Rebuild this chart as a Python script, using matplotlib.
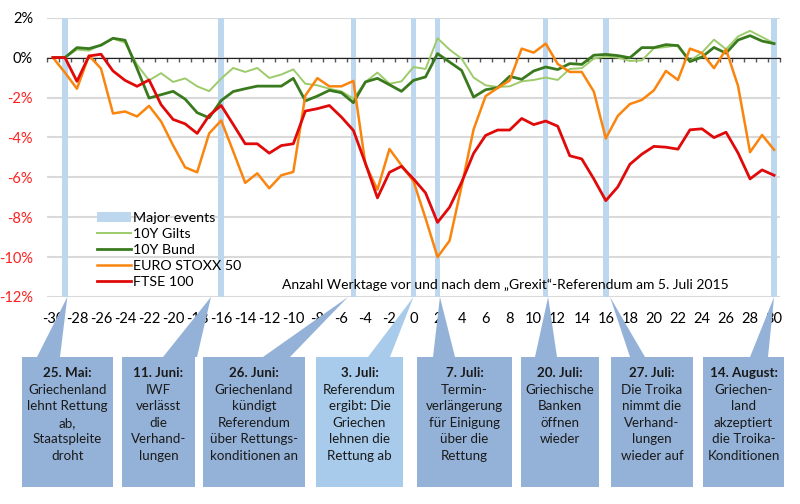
import numpy as np
import matplotlib
matplotlib.use('Agg')
import matplotlib.pyplot as plt
from matplotlib.patches import Rectangle, Polygon

plt.rcParams['font.family'] = ['Lato', 'DejaVu Sans']
plt.rcParams['axes.unicode_minus'] = False

# Werktage relativ zum Referendum (5. Juli 2015)
days = list(range(-30, 31))

# Veränderung in %
gilts = [0, 0, 0.40, 0.35, 0.65, 0.95, 0.75, -0.35, -1.14, -0.78,
         -1.22, -1.04, -1.44, -1.68, -1.05, -0.52, -0.72, -0.52, -1.02, -0.85,
         -0.59, -1.31, -1.39, -1.56, -1.69, -2.06, -1.22, -0.75, -1.31, -1.19,
         -0.47,
         -0.57, 0.97, 0.40, -0.05, -1.00, -1.39, -1.47, -1.44, -1.19, -1.12,
         -1.00, -1.12, -0.57, -0.53, -0.05, 0.05, 0.00, -0.17, -0.14, 0.47,
         0.53, 0.62, -0.15, 0.25, 0.90, 0.42, 1.06, 1.34, 1.03, 0.72]
bund = [0, 0, 0.50, 0.45, 0.62, 0.97, 0.87, -0.55, -2.03, -1.86,
        -1.69, -2.08, -2.76, -3.02, -2.15, -1.70, -1.56, -1.43, -1.43, -1.43,
        -1.04, -2.17, -1.93, -1.64, -1.76, -2.26, -1.22, -1.04, -1.36, -1.69,
        -1.14,
        -0.97, 0.20, -0.22, -0.64, -1.98, -1.61, -1.51, -0.94, -1.09, -0.67,
        -0.47, -0.60, -0.30, -0.34, 0.12, 0.16, 0.10, -0.01, 0.50, 0.50,
        0.65, 0.60, -0.20, 0.03, 0.51, 0.22, 0.88, 1.10, 0.83, 0.70]
euro = [0, -0.75, -1.56, 0.10, -0.55, -2.80, -2.70, -2.95, -2.42, -3.20,
        -4.40, -5.50, -5.75, -3.80, -3.15, -4.70, -6.28, -5.80, -6.55, -5.90,
        -5.73, -1.90, -1.03, -1.44, -1.44, -1.17, -5.35, -6.62, -4.58, -5.40,
        -6.20,
        -8.05, -10.0, -9.18, -6.45, -3.60, -1.93, -1.52, -1.15, 0.45, 0.25,
        0.70, -0.32, -0.72, -0.72, -1.70, -4.05, -2.92, -2.33, -2.12, -1.64,
        -0.67, -1.12, 0.45, 0.23, -0.53, 0.41, -1.42, -4.74, -3.88, -4.62]
ftse = [0, 0, -1.19, 0.08, 0.17, -0.67, -1.14, -1.44, -1.12, -2.36,
        -3.10, -3.32, -3.80, -2.90, -2.40, -3.35, -4.32, -4.32, -4.79, -4.41,
        -4.32, -2.68, -2.56, -2.40, -2.98, -3.65, -5.30, -7.03, -5.75, -5.45,
        -6.08,
        -6.78, -8.26, -7.50, -6.25, -4.80, -3.90, -3.63, -3.63, -3.05, -3.36,
        -3.18, -3.44, -4.92, -5.08, -6.08, -7.17, -6.48, -5.35, -4.84, -4.45,
        -4.49, -4.59, -3.62, -3.57, -4.01, -3.74, -4.78, -6.08, -5.63, -5.90]

events = [-29, -16, -5, 0, 2, 11, 16, 30]
xticks = list(range(-30, 31, 2))
yticks = list(range(-12, 3, 2))

box_lines = [
    ["25. Mai:", "Griechenland", "lehnt Rettung", "ab,", "Staatspleite", "droht"],
    ["11. Juni:", "IWF", "verlässt", "die", "Verhand-", "lungen"],
    ["26. Juni:", "Griechenland", "kündigt", "Referendum", "über Rettungs-", "konditionen an"],
    ["3. Juli:", "Referendum", "ergibt: Die", "Griechen", "lehnen die", "Rettung ab"],
    ["7. Juli:", "Termin-", "verlängerung", "für Einigung", "über die", "Rettung"],
    ["20. Juli:", "Griechische", "Banken", "öffnen", "wieder"],
    ["27. Juli:", "Die Troika", "nimmt die", "Verhand-", "lungen", "wieder auf"],
    ["14. August:", "Griechen-", "land", "akzeptiert", "die Troika-", "Konditionen"],
]
box_light = [False, False, False, True, False, False, False, False]

# Layout in Pixeln (800x504)
W, H = 800, 504
box_x = [(22, 113), (122, 195), (203, 305), (316, 403),
         (417, 512), (521, 599), (611, 693), (703, 784)]
box_top, box_bot = 357, 487
ptr_base = [(37, 60), (163, 197), (263, 290), (368, 390),
            (433, 455), (535, 557), (630, 645), (750, 768)]
tip_off = [0.2, -0.85, -0.45, 0.0, 0.2, 0.2, 0.35, 0.0]

c_dark = '#94B2D8'
c_light = '#A8CBEC'


def fx(px):
    return px / W


def fy(py):
    return 1 - py / H


fig = plt.figure(figsize=(8, 5.04), dpi=100)
ax = fig.add_axes([fx(46.9), fy(297), (780.1 - 46.9) / W, (297 - 17.7) / H])
ax.set_xlim(-30.5, 30.5)
ax.set_ylim(-12, 2)
ax.set_axisbelow(True)
ax.yaxis.grid(True, color='#D9D9D9', lw=1.5)

bars = ax.bar(events, 14, bottom=-12, width=0.45, color='#BDD7EE',
              zorder=1, label='Major events')
l_gilts, = ax.plot(days, gilts, color='#9DCB6B', lw=1.4, zorder=3, label='10Y Gilts')
l_bund, = ax.plot(days, bund, color='#3A7A1E', lw=2.0, zorder=3, label='10Y Bund')
l_euro, = ax.plot(days, euro, color='#FA850E', lw=1.8, zorder=3, label='EURO STOXX 50')
l_ftse, = ax.plot(days, ftse, color='#E00A0A', lw=2.0, zorder=3, label='FTSE 100')

for s in ['top', 'right', 'left']:
    ax.spines[s].set_visible(False)
ax.spines['bottom'].set_position(('data', 0))
ax.spines['bottom'].set_zorder(2)
ax.spines['bottom'].set_color('#222222')
ax.set_xticks([])
ax.set_xticks(np.arange(-30.5, 31, 1), minor=True)
ax.tick_params(axis='x', which='minor', direction='out', length=3, width=1,
               color='#555555', labelbottom=False)

sec = ax.secondary_xaxis('bottom')
sec.set_xticks(xticks)
sec.tick_params(length=0, pad=11, labelsize=10.5)
sec.spines['bottom'].set_visible(False)

ax.set_yticks(yticks)
ax.set_yticklabels([f'{v}%' for v in yticks])
ax.tick_params(axis='y', length=0, pad=10, labelsize=10.5)
for lab, v in zip(ax.get_yticklabels(), yticks):
    lab.set_color('#FF2020' if v < 0 else 'black')

ax.text(-10.95, -11.4, 'Anzahl Werktage vor und nach dem „Grexit“-Referendum am 5. Juli 2015',
        ha='left', va='center', fontsize=10, zorder=4)

ax.legend(handles=[bars, l_gilts, l_bund, l_euro, l_ftse], loc='upper left',
          bbox_to_anchor=(fx(97), fy(212)), bbox_transform=fig.transFigure,
          frameon=False, fontsize=10.3, borderpad=0, borderaxespad=0,
          handlelength=2.35, handletextpad=0.2, labelspacing=0.28)

# Kästen mit Ereignissen
to_fig = fig.transFigure.inverted()
for i, lines in enumerate(box_lines):
    col = c_light if box_light[i] else c_dark
    x0, x1 = box_x[i]
    fig.add_artist(Rectangle((fx(x0), fy(box_bot)), (x1 - x0) / W, (box_bot - box_top) / H,
                             transform=fig.transFigure, facecolor=col, edgecolor='none', zorder=2))
    tip = to_fig.transform(ax.transData.transform((events[i] + tip_off[i], -12)))
    b0, b1 = ptr_base[i]
    fig.add_artist(Polygon([tip, (fx(b0), fy(box_top)), (fx(b1), fy(box_top))], closed=True,
                           transform=fig.transFigure, facecolor=col, edgecolor='none', zorder=2))
    cx = fx((x0 + x1) / 2)
    for k, line in enumerate(lines):
        fig.text(cx, fy(373 + k * 16.6), line, ha='center', va='center', fontsize=9.6,
                 fontweight='bold' if k == 0 else 'normal', color='#1A1A1A', zorder=3)

fig.savefig('out.png', dpi=100)
